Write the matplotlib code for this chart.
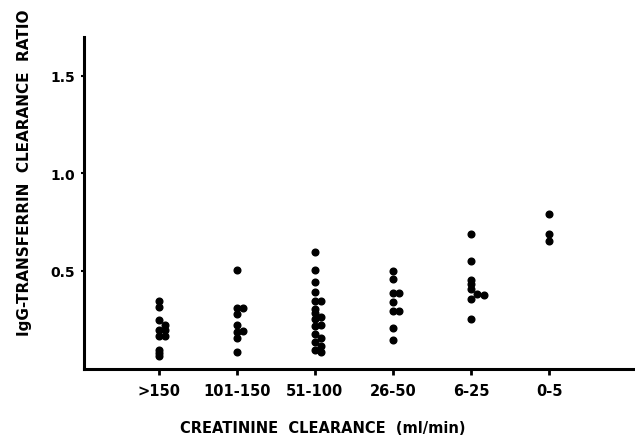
import matplotlib
matplotlib.use('Agg')
import matplotlib.pyplot as plt

groups = ['>150', '101-150', '51-100', '26-50', '6-25', '0-5']

# ratio values per creatinine clearance group
ratio_gt150 = [0.342, 0.311, 0.245, 0.196, 0.166, 0.094, 0.077, 0.063, 0.222, 0.196, 0.166]
ratio_101_150 = [0.505, 0.31, 0.276, 0.22, 0.187, 0.153, 0.085, 0.306, 0.19]
ratio_51_100 = [0.595, 0.505, 0.444, 0.392, 0.342, 0.305, 0.281, 0.25, 0.216, 0.176, 0.132, 0.095,
                0.342, 0.262, 0.223, 0.155, 0.115, 0.084]
ratio_26_50 = [0.496, 0.456, 0.383, 0.34, 0.294, 0.208, 0.143, 0.383, 0.294]
ratio_6_25 = [0.689, 0.55, 0.45, 0.429, 0.405, 0.353, 0.252, 0.379, 0.374]
ratio_0_5 = [0.791, 0.689, 0.65]

# which side column a dot sits in (0 = on the tick, 1 = next to it, ...)
col_gt150 = [0] * 8 + [1] * 3
col_101_150 = [0] * 7 + [1] * 2
col_51_100 = [0] * 12 + [1] * 6
col_26_50 = [0] * 7 + [1] * 2
col_6_25 = [0] * 7 + [1, 2]
col_0_5 = [0] * 3

ratios = [ratio_gt150, ratio_101_150, ratio_51_100, ratio_26_50, ratio_6_25, ratio_0_5]
cols = [col_gt150, col_101_150, col_51_100, col_26_50, col_6_25, col_0_5]

fig = plt.figure(figsize=(6.35, 4.39), dpi=100)
ax = fig.add_axes([0.132, 0.157, 0.868, 0.756])

for i, (vals, cc) in enumerate(zip(ratios, cols)):
    xs = [i + 1 + c * 0.08 for c in cc]
    ax.plot(xs, vals, 'o', color='black', markersize=4.8, linestyle='none')

ax.set_xlim(0.04, 7.1)
ax.set_ylim(-0.005, 1.697)
ax.set_xticks(range(1, 7))
ax.set_xticklabels(groups, fontsize=10.5, fontweight='bold')
ax.set_yticks([0.5, 1.0, 1.5])
ax.set_yticklabels(['0.5', '1.0', '1.5'], fontsize=10, fontweight='bold')

for s in ['top', 'right']:
    ax.spines[s].set_visible(False)
for s in ['left', 'bottom']:
    ax.spines[s].set_linewidth(2.2)
ax.tick_params(axis='x', direction='out', length=4, width=2, pad=6)
ax.tick_params(axis='y', direction='out', length=2, width=1.5, pad=4)

fig.text(0.508, 0.025, 'CREATININE  CLEARANCE  (ml/min)', ha='center', va='center',
         fontsize=10.5, fontweight='bold')
fig.text(0.038, 0.606, 'IgG-TRANSFERRIN  CLEARANCE  RATIO', ha='center', va='center',
         rotation=90, fontsize=11, fontweight='bold')

fig.savefig('out.png', dpi=100)
